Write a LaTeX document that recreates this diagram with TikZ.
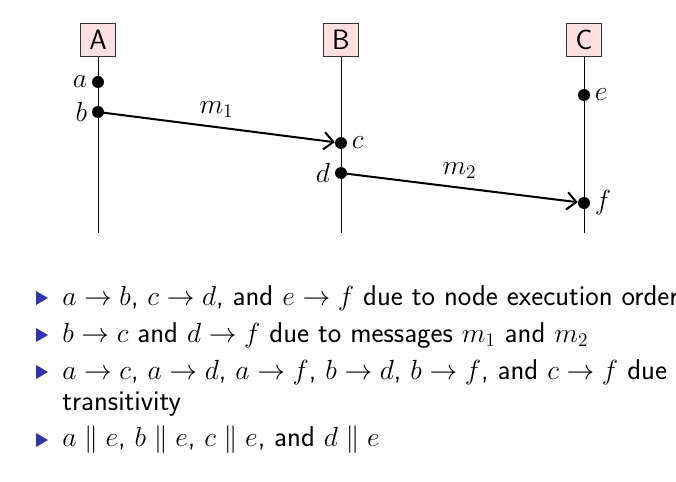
\documentclass[tikz,border=0pt]{standalone}
\usepackage{amssymb}
\usetikzlibrary{arrows.meta}
\definecolor{structblue}{RGB}{51,51,178}
\tikzset{
	proc/.style={draw=black!80,fill=red!12,font=\sffamily\fontsize{21}{24}\selectfont,minimum width=26pt,minimum height=25pt,inner sep=2pt},
	ev/.style={circle,fill=black,inner sep=0pt,minimum size=9pt},
	msg/.style={line width=1.5pt,-{Straight Barb[length=7pt,width=13pt]}},
	lbl/.style={font=\fontsize{21}{24}\selectfont},
	bul/.style={fill=structblue,draw=none}
}
\begin{document}
\begin{tikzpicture}[x=0.75pt,y=-0.75pt]
	\useasboundingbox (0,0) rectangle (676,482);
	%PROCESSES
	\node[proc] (A) at (98,40) {A};
	\node[proc] (B) at (341,40) {B};
	\node[proc] (C) at (584,40) {C};
	\coordinate (Aend) at (98,233);
	\coordinate (Bend) at (341,233);
	\coordinate (Cend) at (584,233);
	\draw (A.south)--(Aend);
	\draw (B.south)--(Bend);
	\draw (C.south)--(Cend);
	
	%EVENTS
	\node[ev,label={[lbl]left:$a$}] (a) at (98,82) {};
	\node[ev,label={[lbl]left:$b$}] (b) at (98,112) {};
	\node[ev,label={[lbl]right:$c$}] (c) at (341,143) {};
	\node[ev,label={[lbl]left:$d$}] (d) at (341,173) {};
	\node[ev,label={[lbl]right:$e$}] (e) at (584,95) {};
	\node[ev,label={[lbl]right:$f$}] (f) at (584,203) {};
	
	%MESSAGES
	\draw[msg] (b.center)--(c) node[lbl,midway,above=3pt] {$m_1$};
	\draw[msg] (d.center)--(f) node[lbl,midway,above=3pt] {$m_2$};
	
	%BULLETS
	\foreach \y in {298,335,372,440}
	\fill[bul] (36,\y-7)--(48,\y)--(36,\y+7)--cycle;
	\begin{scope}[every node/.style={anchor=west,font=\sffamily\fontsize{21.5}{24}\selectfont,inner sep=0pt}]
	\node (l1) at (62,298) {$a\rightarrow b$, $c\rightarrow d$, and $e\rightarrow f$ due to node execution order};
	\node (l2) at (62,335) {$b\rightarrow c$ and $d\rightarrow f$ due to messages $m_1$ and $m_2$};
	\node (l3) at (62,372) {$a\rightarrow c$, $a\rightarrow d$, $a\rightarrow f$, $b\rightarrow d$, $b\rightarrow f$, and $c\rightarrow f$ due to};
	\node (l3b) at (62,404) {transitivity};
	\node (l4) at (62,440) {$a\parallel e$, $b\parallel e$, $c\parallel e$, and $d\parallel e$};
	\end{scope}
\end{tikzpicture}
\end{document}
